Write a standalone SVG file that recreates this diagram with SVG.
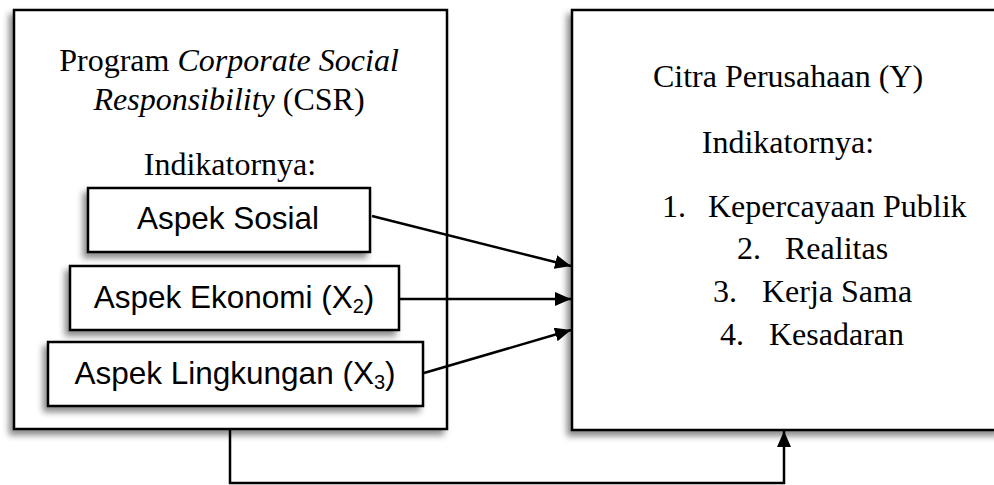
<svg xmlns="http://www.w3.org/2000/svg" width="994" height="485" viewBox="0 0 994 485">
<style>
.box{fill:#fff;stroke:#000;stroke-width:2.5}
.t{font-family:"Liberation Serif","Times New Roman",serif;font-size:32px;fill:#000;text-anchor:middle}
.n{font-family:"Liberation Serif","Times New Roman",serif;font-size:32px;fill:#000}
.a{font-family:"Liberation Sans",Arial,sans-serif;font-size:31.5px;fill:#000;text-anchor:middle}
.c{fill:none;stroke:#000;stroke-width:2.5}
</style>
<defs>
<filter id="sh" x="-20%" y="-20%" width="140%" height="140%">
<feDropShadow dx="-4" dy="5" stdDeviation="3" flood-color="#000" flood-opacity="0.45"/>
</filter>
<marker id="arw" viewBox="0 0 16 14" refX="16" refY="7" markerWidth="16" markerHeight="14" orient="auto" markerUnits="userSpaceOnUse">
<path d="M0,0 L16,7 L0,14 Z" fill="#000"/>
</marker>
</defs>
<g id="csr">
<rect class="box" x="14" y="10" width="433" height="419" filter="url(#sh)"/>
<text class="t" x="229" y="71">Program <tspan font-style="italic">Corporate Social</tspan></text>
<text class="t" x="229" y="110"><tspan font-style="italic">Responsibility</tspan> (CSR)</text>
<text class="t" x="230" y="175">Indikatornya:</text>
</g>
<g id="citra">
<rect class="box" x="572" y="10" width="430" height="420" filter="url(#sh)"/>
<text class="t" x="788" y="87">Citra Perusahaan (Y)</text>
<text class="t" x="788" y="153">Indikatornya:</text>
<text class="n" x="662" y="217">1.</text><text class="n" x="708" y="217">Kepercayaan Publik</text>
<text class="n" x="737" y="259">2.</text><text class="n" x="785" y="259">Realitas</text>
<text class="n" x="713" y="302">3.</text><text class="n" x="762" y="302">Kerja Sama</text>
<text class="n" x="720" y="345">4.</text><text class="n" x="769" y="345">Kesadaran</text>
</g>
<g id="sosial">
<rect class="box" x="88" y="188" width="282" height="64" filter="url(#sh)"/>
<text class="a" x="228" y="229">Aspek Sosial</text>
</g>
<g id="ekonomi">
<rect class="box" x="70" y="266" width="329" height="64" filter="url(#sh)"/>
<text class="a" x="234" y="308">Aspek Ekonomi (X<tspan font-size="20" dy="5">2</tspan><tspan dy="-5">)</tspan></text>
</g>
<g id="lingkungan">
<rect class="box" x="48" y="342" width="375" height="64" filter="url(#sh)"/>
<text class="a" x="235" y="384">Aspek Lingkungan (X<tspan font-size="20" dy="5">3</tspan><tspan dy="-5">)</tspan></text>
</g>
<g id="connectors">
<line class="c" x1="372" y1="216" x2="571" y2="266" marker-end="url(#arw)"/>
<line class="c" x1="400" y1="299" x2="571" y2="299" marker-end="url(#arw)"/>
<line class="c" x1="424" y1="373" x2="571" y2="330" marker-end="url(#arw)"/>
<polyline class="c" points="230,430 230,483 784,483 784,431" marker-end="url(#arw)"/>
</g>
</svg>
